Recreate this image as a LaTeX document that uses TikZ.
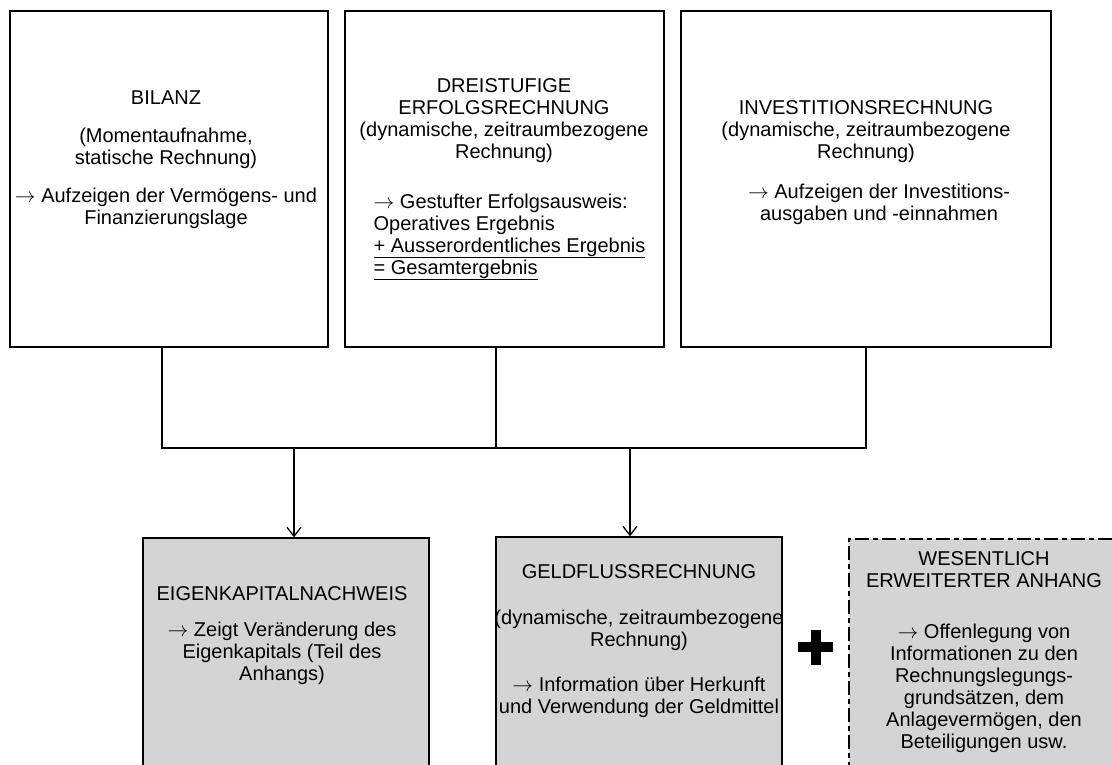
\documentclass[tikz,border=0pt]{standalone}
\usepackage{fontspec}
\setmainfont{Liberation Sans}
\usetikzlibrary{arrows.meta}
\definecolor{boxgray}{RGB}{212,212,212}
\tikzset{
	kasten/.style n args={2}{draw, inner sep=0pt, minimum width=#1, minimum height=#2},
	graukasten/.style n args={2}{kasten={#1}{#2}, fill=boxgray},
	anhangkasten/.style n args={2}{kasten={#1}{#2}, fill=boxgray, line width=2.2pt, dash pattern=on 14pt off 4pt on 5pt off 4pt},
	txt/.style={align=center, inner sep=0pt, font=\fontsize{20}{22}\selectfont},
}
\begin{document}
\begin{tikzpicture}[x=1pt, y=-1pt, line width=1.3pt, >={Straight Barb[length=9pt,width=14pt]}]
	\useasboundingbox (0,0) rectangle (1112,765);
	\clip (0,0) rectangle (1112,765);
	\node[kasten={318pt}{336pt}] (bilanz) at (169,179) {};
	\node[kasten={319pt}{336pt}] (erfolg) at (504.5,179) {};
	\node[kasten={370pt}{336pt}] (invest) at (866,179) {};
	\node[graukasten={286pt}{237pt}] (ekn) at (286,656.5) {};
	\node[graukasten={286pt}{238pt}] (geld) at (639,656) {};
	\node[anhangkasten={270pt}{236pt}] (anhang) at (984,657) {};

	\coordinate (s1) at (162,448);
	\coordinate (s2) at (496,448);
	\coordinate (s3) at (866,448);
	\coordinate (p1) at (294,448);
	\coordinate (p2) at (630,448);
	\draw (bilanz.south -| s1) -- (s1) -- (s3) -- (invest.south -| s3);
	\draw (erfolg.south -| s2) -- (s2);
	\draw[->] (p1) -- (p1 |- ekn.north);
	\draw[->] (p2) -- (p2 |- geld.north);

	\coordinate (plus) at (815.5,647);
	\draw[line width=10pt] ([xshift=-17.5pt]plus) -- ([xshift=17.5pt]plus) ([yshift=-17.5pt]plus) -- ([yshift=17.5pt]plus);

	\node[txt, anchor=north] (t1) at (166,90) {BILANZ\\[16pt](Momentaufnahme,\\statische Rechnung)\\[16pt]$\rightarrow$ Aufzeigen der Vermögens- und\\Finanzierungslage};
	\node[txt, anchor=north] (t2a) at (504,78) {DREISTUFIGE\\ERFOLGSRECHNUNG\\(dynamische, zeitraumbezogene\\Rechnung)};
	\node[txt, align=left, anchor=north west] (t2b) at (373,193) {$\rightarrow$ Gestufter Erfolgsausweis:\\Operatives Ergebnis\\\underline{+ Ausserordentliches Ergebnis}\\\underline{= Gesamtergebnis}};
	\node[txt, anchor=north] (t3a) at (866,100) {INVESTITIONSRECHNUNG\\(dynamische, zeitraumbezogene\\Rechnung)};
	\node[txt, anchor=north] (t3b) at (879,183) {$\rightarrow$ Aufzeigen der Investitions-\\ausgaben und -einnahmen};
	\node[txt, anchor=north] (t4) at (282,586) {EIGENKAPITALNACHWEIS\\[14pt]$\rightarrow$ Zeigt Veränderung des\\Eigenkapitals (Teil des\\Anhangs)};
	\node[txt, anchor=north] (t5) at (639,564) {GELDFLUSSRECHNUNG\\[24pt](dynamische, zeitraumbezogene\\Rechnung)\\[23pt]$\rightarrow$ Information über Herkunft\\und Verwendung der Geldmittel};
	\node[txt, anchor=north] (t6) at (984,551) {WESENTLICH\\ERWEITERTER ANHANG\\[29pt]$\rightarrow$ Offenlegung von\\Informationen zu den\\Rechnungslegungs-\\grundsätzen, dem\\Anlagevermögen, den\\Beteiligungen usw.};
\end{tikzpicture}
\end{document}
